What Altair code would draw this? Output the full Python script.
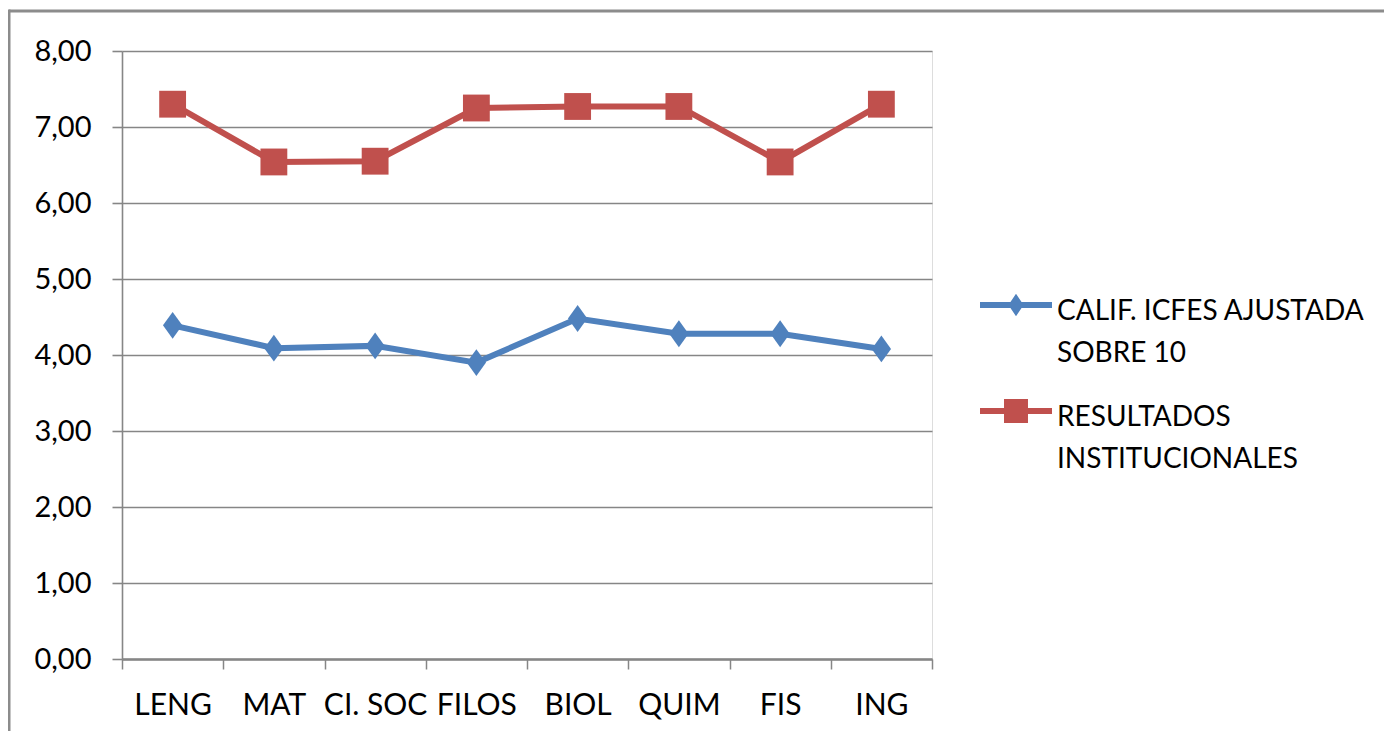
import json
import altair as alt
import pandas as pd

# ---------------- data ----------------
CATEGORIES = ["LENG", "MAT", "CI. SOC", "FILOS", "BIOL", "QUIM", "FIS", "ING"]
SERIES = ["CALIF. ICFES AJUSTADA SOBRE 10", "RESULTADOS INSTITUCIONALES"]
ICFES = [4.39, 4.09, 4.12, 3.90, 4.48, 4.28, 4.28, 4.08]
INSTITUCIONAL = [7.30, 6.54, 6.55, 7.25, 7.27, 7.27, 6.54, 7.30]
Y_TICKS = [0, 1, 2, 3, 4, 5, 6, 7, 8]
LEGEND_LINES = [["CALIF. ICFES AJUSTADA", "SOBRE 10"], ["RESULTADOS", "INSTITUCIONALES"]]

COLORS = ["#4F81BD", "#C0504D"]
GRAY = "#868686"
FONT = "Lato"

rows = []
for i, c in enumerate(CATEGORIES):
    rows.append({"cat": c, "series": SERIES[0], "value": ICFES[i]})
    rows.append({"cat": c, "series": SERIES[1], "value": INSTITUCIONAL[i]})
df = pd.DataFrame(rows)

# marker shapes
DIAMOND = "M0,-1 L0.72,0 L0,1 L-0.72,0 Z"
PLOT_SHAPES = [DIAMOND, "square"]
# legend symbols: line segment + marker (drawn slightly below the row centre)
LEG_DIAMOND = ("M-1,0.109 L1,0.109 L1,0.279 L-1,0.279 Z "
               "M0,-0.116 L0.21,0.194 L0,0.504 L-0.21,0.194 Z")
LEG_SQUARE = ("M-1,0.109 L1,0.109 L1,0.279 L-1,0.279 Z "
              "M-0.333,-0.139 L0.333,-0.139 L0.333,0.527 L-0.333,0.527 Z")
LEGEND_SHAPES = [LEG_DIAMOND, LEG_SQUARE]

x_enc = alt.X(
    "cat:N",
    sort=CATEGORIES,
    title=None,
    bandPosition=0.5,
    scale=alt.Scale(type="band", domain=CATEGORIES, paddingInner=0, paddingOuter=0),
    axis=alt.Axis(
        tickBand="extent", labelAngle=0, grid=False,
        domainColor=GRAY, domainWidth=2.5,
        tickColor=GRAY, tickWidth=1.5, tickSize=10,
        labelFont=FONT, labelFontSize=30, labelColor="black",
        labelPadding=21, labelBaseline="top",
    ),
)
y_enc = alt.Y(
    "value:Q",
    title=None,
    scale=alt.Scale(domain=[0, 8], nice=False, zero=True),
    axis=alt.Axis(
        values=Y_TICKS,
        labelExpr="replace(format(datum.value, '.2f'), '.', ',')",
        grid=True, gridColor=GRAY, gridWidth=1.6,
        domainColor=GRAY, domainWidth=1.6,
        tickColor=GRAY, tickWidth=1.6, tickSize=10,
        labelFont=FONT, labelFontSize=29, labelColor="black",
        labelPadding=21,
    ),
)

color_plot = alt.Color("series:N", scale=alt.Scale(domain=SERIES, range=COLORS), legend=None)

lines = alt.Chart(df).mark_line(strokeWidth=6).encode(
    x=x_enc, y=y_enc, color=color_plot, detail="series:N"
)

points = alt.Chart(df).mark_point(filled=True, opacity=1, size=720).encode(
    x=x_enc, y=y_enc, color=color_plot,
    shape=alt.Shape("series:N", scale=alt.Scale(domain=SERIES, range=PLOT_SHAPES), legend=None),
)

label_expr = (
    f"datum.label == {json.dumps(SERIES[0])} ? {json.dumps(LEGEND_LINES[0])} : {json.dumps(LEGEND_LINES[1])}"
)
leg = alt.Legend(
    title=None, orient="none", legendX=858, legendY=211,
    symbolSize=5184, symbolStrokeWidth=0, symbolOpacity=1,
    labelFont=FONT, labelFontSize=28, labelColor="black",
    labelExpr=label_expr, labelOffset=5, labelLimit=0,
    padding=0, rowPadding=-3, labelBaseline="top",
)

legend_layer = alt.Chart(df).transform_filter("false").mark_point(filled=True, opacity=1).encode(
    x=x_enc, y=y_enc,
    color=alt.Color("series:N", scale=alt.Scale(domain=SERIES, range=COLORS), legend=leg),
    shape=alt.Shape("series:N", scale=alt.Scale(domain=SERIES, range=LEGEND_SHAPES), legend=leg),
)

frame_df = pd.DataFrame({"f": [0]})
frame_top = alt.Chart(frame_df).mark_rule(color="#8c8c8c", strokeWidth=3).encode(
    x=alt.value(-113), x2=alt.value(1275), y=alt.value(-40)
)
frame_left = alt.Chart(frame_df).mark_rule(color="#8c8c8c", strokeWidth=3).encode(
    x=alt.value(-113), y=alt.value(-41.5), y2=alt.value(690)
)

chart = (
    alt.layer(frame_top, frame_left, lines, points, legend_layer)
    .resolve_scale(color="independent", shape="independent")
    .properties(
        width=810, height=608,
        autosize=alt.AutoSizeParams(type="none"),
        padding={"left": 114, "top": 43, "right": 452, "bottom": 72},
        background="white",
    )
    .configure_view(stroke=None)
    .configure(style={"guide-label": {"lineHeight": 42}})
)

chart.save("out.html", embed_options={"renderer": "svg", "actions": False})
